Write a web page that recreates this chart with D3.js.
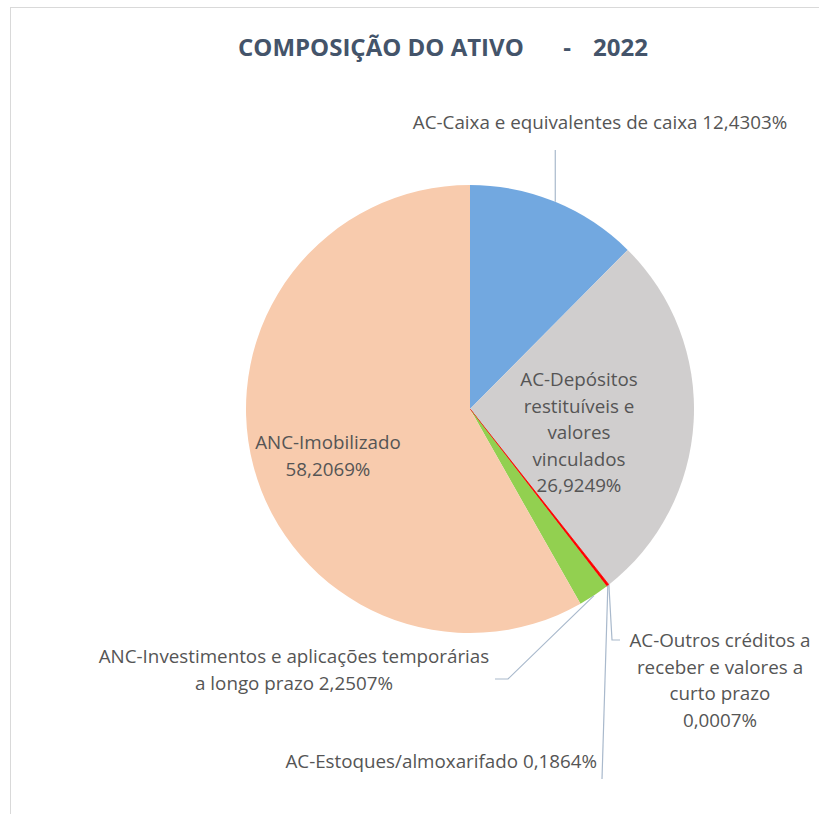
<!DOCTYPE html>
<html>
<head>
<meta charset="utf-8">
<script src="https://cdn.jsdelivr.net/npm/d3@7"></script>
<style>
  body { margin: 0; background: #fff; }
  text { font-family: "Open Sans", sans-serif; }
</style>
</head>
<body>
<div class="canvas"></div>
<script>
// data (clockwise from 12 o'clock)
const categories = [
  'AC-Caixa e equivalentes de caixa',
  'AC-Depósitos restituíveis e valores vinculados',
  'AC-Outros créditos a receber e valores a curto prazo',
  'AC-Estoques/almoxarifado',
  'ANC-Investimentos e aplicações temporárias a longo prazo',
  'ANC-Imobilizado'
];
const values = [12.4303, 26.9249, 0.0007, 0.1864, 2.2507, 58.2069];
const valueLabels = ['12,4303%', '26,9249%', '0,0007%', '0,1864%', '2,2507%', '58,2069%'];
const colors = ['url(#blueGrad)', '#D0CECE', '#FF0000', '#FF0000', '#92D050', '#F8CBAD'];

// label text lines (as wrapped in the chart)
const labelLines = [
  ['AC-Caixa e equivalentes de caixa 12,4303%'],
  ['AC-Depósitos', 'restituíveis e', 'valores', 'vinculados', '26,9249%'],
  ['AC-Outros créditos a', 'receber e valores a', 'curto prazo', '0,0007%'],
  ['AC-Estoques/almoxarifado 0,1864%'],
  ['ANC-Investimentos e aplicações temporárias', 'a longo prazo 2,2507%'],
  ['ANC-Imobilizado', '58,2069%']
];

const width = 819, height = 814;
const cx = 470, cy = 409, radius = 224;

// label layout: x, first baseline, anchor, leader path (in page coords, after the slice edge point)
const labelPos = [
  {x: 600, y: 129, anchor: 'middle', leader: [[null, 150]]},
  {x: 579, y: 386, anchor: 'middle', leader: null},
  {x: 720, y: 647, anchor: 'middle', leader: [[612, 640], [620, 640]]},
  {x: 597, y: 768, anchor: 'end', leader: [[602, 779]]},
  {x: 294, y: 663, anchor: 'middle', leader: [[508, 679], [495, 679]]},
  {x: 328, y: 449, anchor: 'middle', leader: null}
];

const svg = d3.select('.canvas')
  .append('svg')
    .attr('width', width)
    .attr('height', height);

const defs = svg.append('defs');
const grad = defs.append('linearGradient')
  .attr('id', 'blueGrad')
  .attr('gradientUnits', 'userSpaceOnUse')
  .attr('x1', 0).attr('y1', cy - radius)
  .attr('x2', 0).attr('y2', cy);
grad.append('stop').attr('offset', '0%').attr('stop-color', '#72A8E0');
grad.append('stop').attr('offset', '100%').attr('stop-color', '#488ED8');

// chart frame
svg.append('rect')
  .attr('x', 10.5).attr('y', 7.5)
  .attr('width', 900).attr('height', 900)
  .attr('fill', '#fff')
  .attr('stroke', '#D9D9D9');

// title
const title = svg.append('text')
  .attr('y', 56)
  .attr('fill', '#44546A')
  .attr('font-weight', 'bold')
  .attr('font-size', 24);
title.append('tspan').attr('x', 238).text('COMPOSIÇÃO DO ATIVO');
title.append('tspan').attr('x', 567).attr('text-anchor', 'middle').text('-');
title.append('tspan').attr('x', 593).text('2022');

const pie = d3.pie().sort(null).value(d => d);
const arcs = pie(values);
const arc = d3.arc().innerRadius(0).outerRadius(radius);

const graph = svg.append('g')
  .attr('transform', `translate(${cx}, ${cy})`);

graph.selectAll('path')
  .data(arcs)
  .enter()
  .append('path')
    .attr('d', arc)
    .attr('fill', (d, i) => colors[i])
    .attr('stroke', (d, i) => i === 3 ? colors[i] : 'none')
    .attr('stroke-width', 0.8);

// leader lines start at the slice's outer edge, mid angle
const edgePoint = d => {
  const a = (d.startAngle + d.endAngle) / 2;
  return [cx + radius * Math.sin(a), cy - radius * Math.cos(a)];
};

arcs.forEach((d, i) => {
  const p = labelPos[i];
  if (!p.leader) return;
  const start = edgePoint(d);
  const pts = [start].concat(p.leader.map(q => [q[0] === null ? start[0] : q[0], q[1]]));
  svg.append('path')
    .attr('d', d3.line()(pts))
    .attr('fill', 'none')
    .attr('stroke', '#A9B9CC')
    .attr('stroke-width', 1.2);
});

// labels
const lineH = 26.5;
arcs.forEach((d, i) => {
  const p = labelPos[i];
  const t = svg.append('text')
    .attr('x', p.x)
    .attr('y', p.y)
    .attr('text-anchor', p.anchor)
    .attr('fill', '#555555')
    .attr('font-size', 18.8);
  labelLines[i].forEach((line, j) => {
    t.append('tspan')
      .attr('x', p.x)
      .attr('dy', j === 0 ? 0 : lineH)
      .text(line);
  });
});
</script>
</body>
</html>
